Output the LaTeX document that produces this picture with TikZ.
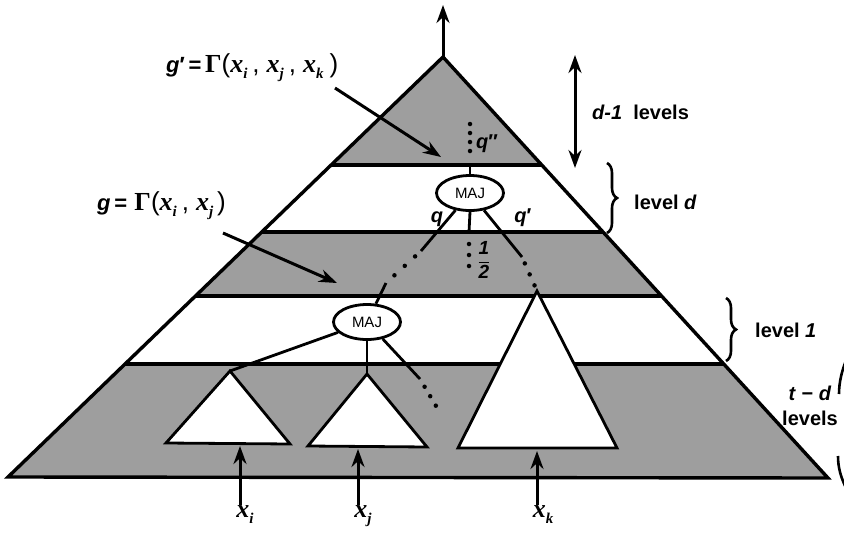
\documentclass[tikz,border=0pt]{standalone}
\usepackage{fontspec}
\setmainfont{Liberation Sans}
\newfontfamily\serifface{Liberation Serif}
\usetikzlibrary{arrows.meta,shapes.geometric,decorations.pathreplacing}
\newcommand{\xvar}[1]{{\serifface\bfseries\itshape x}\raisebox{-6pt}{\fontsize{15}{17}\selectfont\serifface\bfseries\itshape #1}}
\newcommand{\bigGam}{{\serifface\bfseries Γ}}
\newcommand{\sep}{\hspace{5pt},\hspace{7pt}}
\begin{document}
\begin{tikzpicture}[x=1pt,y=-1pt,
  shadefill/.style={fill=black!38},
  edgeline/.style={line width=3.4pt},
  thinline/.style={line width=2.8pt},
  dotline/.style={line width=4.5pt, line cap=round, dash pattern=on 0pt off 11pt},
  majnode/.style={ellipse, draw, line width=2.8pt, fill=white, minimum width=67pt, minimum height=35pt, inner sep=0pt, font=\fontsize{15}{17}\selectfont},
  arr/.style={line width=3pt, -{Stealth[length=18pt,width=13pt]}},
  dblarr/.style={line width=3pt, {Stealth[length=18pt,width=13pt]}-{Stealth[length=18pt,width=13pt]}},
  lbl/.style={font=\fontsize{20}{24}\selectfont\bfseries, inner sep=0pt},
  mlbl/.style={font=\fontsize{26}{29}\selectfont, inner sep=0pt},
  bracestyle/.style={line width=2.6pt, decorate, decoration={brace, amplitude=10pt}}
]
\useasboundingbox (0,0) rectangle (844,544);
\fill[white] (0,0) rectangle (844,544);

% big triangle
\coordinate (A) at (443,57);
\coordinate (BL) at (8,477);
\coordinate (BR) at (828,478);
\fill[shadefill] (A) -- (BL) -- (BR) -- cycle;
\begin{scope}
  \clip (A) -- (BL) -- (BR) -- cycle;
  \fill[white] (0,165) rectangle (844,232);
  \fill[white] (0,296) rectangle (844,364);
  \foreach \yy in {165,232,296,364} \draw[edgeline] (0,\yy) -- (844,\yy);
\end{scope}
\draw[edgeline, line join=miter] (A) -- (BL) -- (BR) -- cycle;

% subtrees
\coordinate (t1) at (230,371);
\coordinate (t2) at (367,374);
\coordinate (t3) at (537,291);
\draw[thinline, fill=white, line join=miter] (t1) -- (166,443) -- (290,444) -- cycle;
\draw[thinline, fill=white, line join=miter] (t2) -- (308,446) -- (427,447) -- cycle;
\draw[thinline, fill=white, line join=miter] (t3) -- (458,448) -- (617,448) -- cycle;

% MAJ gates
\node[majnode] (maj1) at (470,193) {MAJ};
\node[majnode] (maj2) at (367,322) {MAJ};

% upper gate connections
\coordinate (ua) at (470,165);
\coordinate (ub) at (470,124);
\draw[thinline] (maj1.north) -- (ua);
\draw[dotline, dash pattern=on 0pt off 9pt, shorten <=14pt] (ua) -- (ub);

\coordinate (qa) at (421,251);
\coordinate (qb) at (386,283);
\draw[thinline] (maj1) -- (qa);
\draw[dotline, dash pattern=on 0pt off 14pt, shorten <=8pt, shorten >=6pt] (qa) -- (qb);
\draw[thinline] (qb) -- (maj2);

\coordinate (ma) at (469,232);
\coordinate (mb) at (469,268);
\draw[thinline] (maj1.south) -- (ma);
\draw[dotline, shorten <=12pt] (ma) -- (mb);

\coordinate (ra) at (522,257);
\draw[thinline] (maj1) -- (ra);
\draw[dotline, dash pattern=on 0pt off 12pt, shorten <=7pt, shorten >=5pt] (ra) -- (t3);

% lower gate connections
\draw[thinline] (maj2) -- (t1);
\draw[thinline] (maj2.south) -- (t2);
\coordinate (rb) at (420,379);
\coordinate (rc) at (439,411);
\draw[thinline] (maj2) -- (rb);
\draw[dotline, dash pattern=on 0pt off 11pt, shorten <=9pt] (rb) -- (rc);

% wire labels
\node[lbl] (q) at (437,219) {\textit{q}};
\node[lbl] (qp) at (523,218) {\textit{q}′};
\node[lbl] (qpp) at (487,144) {\textit{q}″};
\node[inner sep=0pt, font=\fontsize{19}{21}\selectfont\bfseries] (half) at (484,260) {$\displaystyle\frac{\textit{1}}{\textit{2}}$};

% output arrow
\coordinate (top) at (443,5);
\draw[arr] (A) -- (top);

% formula labels
\node[mlbl, anchor=west] (gp) at (166,68) {{\fontsize{22}{24}\selectfont\bfseries\textit{g}′\,=\,}\bigGam(\xvar{i}\sep\xvar{j}\sep\xvar{k}\hspace{6pt})};
\coordinate (gps) at (335,88);
\coordinate (gpe) at (441,157);
\draw[arr] (gps) -- (gpe);

\node[mlbl, anchor=west] (g) at (97,206) {{\fontsize{22}{24}\selectfont\bfseries\textit{g}\,=\,\,}\bigGam(\xvar{i}\sep\xvar{j}\hspace{4pt})};
\coordinate (gs) at (223,233);
\coordinate (ge) at (337,283);
\draw[arr] (gs) -- (ge);

% level annotations
\coordinate (da) at (575,55);
\coordinate (db) at (575,168);
\draw[dblarr] (da) -- (db);
\node[lbl, anchor=west] (dl) at (592,112) {\textit{d-1}\ \ levels};

\draw[bracestyle] (607,163) -- (607,233);
\node[lbl, anchor=west] (ld) at (634,202) {level \textit{d}};

\draw[bracestyle] (726,298) -- (726,361);
\node[lbl, anchor=west] (l1) at (755,330) {level \textit{1}};

\node[lbl] (td) at (810,393) {\textit{t} − \textit{d}};
\node[lbl] (lv) at (810,418) {levels};
\begin{scope}
  \clip (828,340) rectangle (844,500);
  \draw[line width=2.6pt] (847,358) .. controls (842,370) and (839,382) .. (839,394);
  \draw[line width=2.6pt] (838,456) .. controls (838,468) and (841,478) .. (847,490);
\end{scope}

% inputs
\node[mlbl, anchor=north] (xi) at (245,505) {\xvar{i}};
\node[mlbl, anchor=north] (xj) at (363,505) {\xvar{j}};
\node[mlbl, anchor=north] (xk) at (543,505) {\xvar{k}};
\coordinate (b1) at (240,446);
\coordinate (b2) at (358,449);
\coordinate (b3) at (537,451);
\draw[arr] (xi.north -| b1) -- (b1);
\draw[arr] (xj.north -| b2) -- (b2);
\draw[arr] (xk.north -| b3) -- (b3);
\end{tikzpicture}
\end{document}
